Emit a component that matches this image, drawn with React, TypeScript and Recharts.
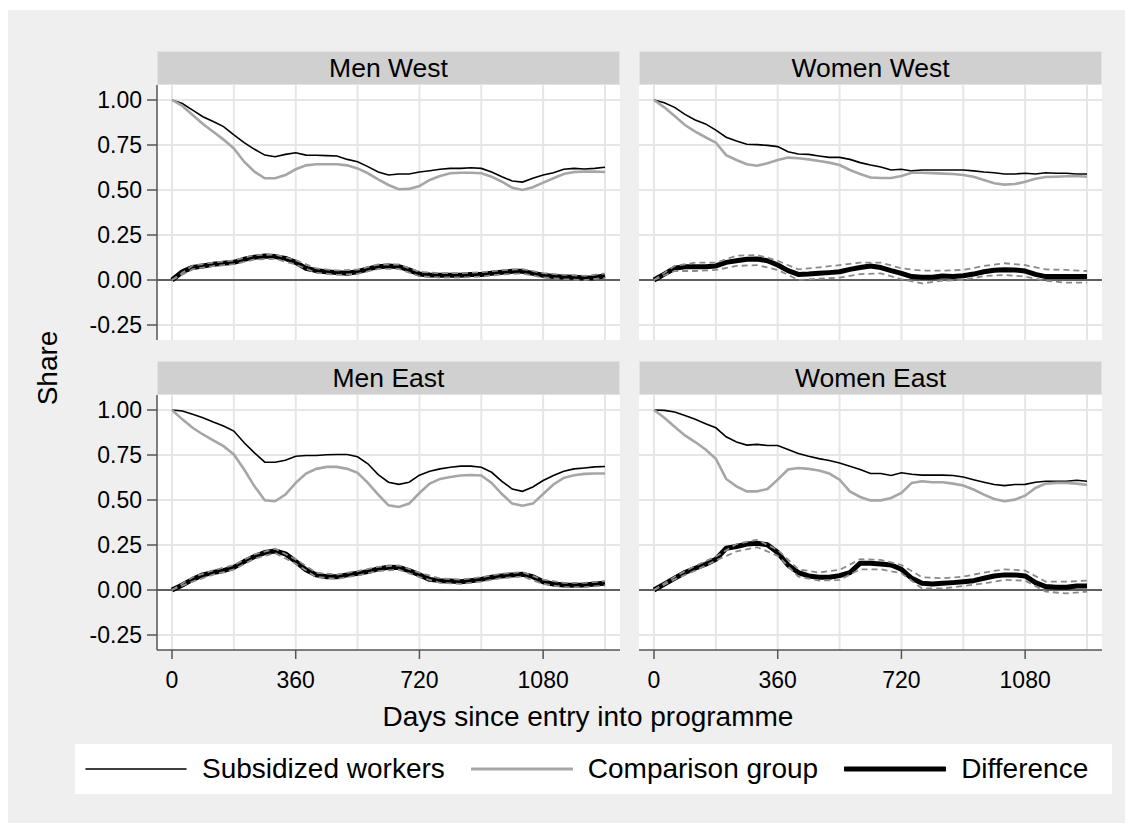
import React from 'react';
import { LineChart, Line, XAxis, YAxis, CartesianGrid, ReferenceLine } from 'recharts';

// ---------- categories / ticks ----------
const days = [0, 30, 60, 90, 120, 150, 180, 210, 240, 270, 300, 330, 360, 390, 420, 450, 480, 510, 540, 570, 600, 630, 660, 690, 720, 750, 780, 810, 840, 870, 900, 930, 960, 990, 1020, 1050, 1080, 1110, 1140, 1170, 1200, 1230, 1260];
const ciDays = [0, 60, 120, 180, 240, 300, 360, 420, 480, 540, 600, 660, 720, 780, 840, 900, 960, 1020, 1080, 1140, 1200, 1260];
const xTicks = [0, 360, 720, 1080];
const xGrid = [0, 180, 360, 540, 720, 900, 1080, 1260];
const yTicks = [-0.25, 0, 0.25, 0.5, 0.75, 1];

// ---------- Men West ----------
const menWestSubsidized = [1.00, 0.98, 0.944, 0.907, 0.88, 0.852, 0.806, 0.763, 0.726, 0.694, 0.685, 0.698, 0.707, 0.694, 0.693, 0.691, 0.689, 0.670, 0.657, 0.63, 0.60, 0.583, 0.589, 0.589, 0.60, 0.607, 0.615, 0.62, 0.62, 0.624, 0.62, 0.60, 0.574, 0.55, 0.544, 0.565, 0.583, 0.596, 0.615, 0.62, 0.617, 0.62, 0.626];
const menWestComparison = [1.00, 0.967, 0.917, 0.867, 0.824, 0.78, 0.731, 0.657, 0.602, 0.565, 0.565, 0.583, 0.615, 0.637, 0.643, 0.643, 0.643, 0.637, 0.62, 0.593, 0.559, 0.528, 0.504, 0.506, 0.522, 0.556, 0.578, 0.593, 0.596, 0.596, 0.593, 0.574, 0.546, 0.513, 0.50, 0.515, 0.541, 0.565, 0.589, 0.60, 0.602, 0.602, 0.60];
const menWestDifference = [0, 0.046, 0.07, 0.078, 0.087, 0.093, 0.098, 0.115, 0.126, 0.133, 0.13, 0.12, 0.098, 0.065, 0.052, 0.046, 0.041, 0.037, 0.046, 0.061, 0.074, 0.078, 0.074, 0.056, 0.033, 0.028, 0.026, 0.026, 0.026, 0.03, 0.031, 0.037, 0.043, 0.048, 0.048, 0.037, 0.026, 0.019, 0.017, 0.015, 0.011, 0.013, 0.024];
const menWestCiHigh = [0, 0.08, 0.097, 0.108, 0.138, 0.142, 0.11, 0.064, 0.053, 0.058, 0.086, 0.086, 0.045, 0.038, 0.038, 0.043, 0.055, 0.06, 0.038, 0.029, 0.023, 0.036];
const menWestCiLow = [0, 0.06, 0.077, 0.088, 0.114, 0.118, 0.086, 0.04, 0.029, 0.034, 0.062, 0.062, 0.021, 0.014, 0.014, 0.019, 0.031, 0.036, 0.014, 0.005, -0.001, 0.012];

// ---------- Women West ----------
const womenWestSubsidized = [1.00, 0.985, 0.959, 0.92, 0.889, 0.867, 0.833, 0.793, 0.772, 0.754, 0.752, 0.748, 0.741, 0.713, 0.70, 0.698, 0.689, 0.681, 0.681, 0.67, 0.652, 0.639, 0.628, 0.611, 0.615, 0.606, 0.611, 0.611, 0.611, 0.611, 0.611, 0.606, 0.60, 0.596, 0.589, 0.589, 0.593, 0.589, 0.596, 0.593, 0.593, 0.589, 0.589];
const womenWestComparison = [1.00, 0.959, 0.911, 0.861, 0.824, 0.793, 0.763, 0.694, 0.667, 0.643, 0.635, 0.648, 0.667, 0.68, 0.676, 0.67, 0.661, 0.652, 0.639, 0.611, 0.589, 0.569, 0.567, 0.567, 0.578, 0.596, 0.596, 0.594, 0.591, 0.589, 0.583, 0.574, 0.556, 0.537, 0.53, 0.533, 0.546, 0.563, 0.572, 0.574, 0.576, 0.578, 0.574];
const womenWestDifference = [0, 0.033, 0.065, 0.074, 0.074, 0.074, 0.078, 0.098, 0.107, 0.115, 0.117, 0.107, 0.083, 0.052, 0.031, 0.033, 0.037, 0.041, 0.046, 0.059, 0.069, 0.078, 0.069, 0.052, 0.037, 0.019, 0.015, 0.015, 0.022, 0.02, 0.024, 0.033, 0.046, 0.054, 0.057, 0.056, 0.05, 0.031, 0.019, 0.019, 0.019, 0.019, 0.019];
const womenWestCiHigh = [0, 0.078, 0.096, 0.096, 0.135, 0.139, 0.107, 0.059, 0.07, 0.083, 0.096, 0.096, 0.065, 0.052, 0.052, 0.056, 0.078, 0.093, 0.083, 0.059, 0.056, 0.05];
const womenWestCiLow = [0, 0.05, 0.05, 0.056, 0.078, 0.083, 0.056, 0.0, 0.007, 0.013, 0.033, 0.037, 0.004, -0.019, -0.004, 0.0, 0.022, 0.028, 0.019, -0.004, -0.015, -0.015];

// ---------- Men East ----------
const menEastSubsidized = [1.00, 0.994, 0.976, 0.957, 0.933, 0.911, 0.883, 0.818, 0.762, 0.71, 0.71, 0.721, 0.743, 0.747, 0.747, 0.751, 0.753, 0.753, 0.74, 0.701, 0.641, 0.599, 0.587, 0.599, 0.638, 0.66, 0.673, 0.682, 0.688, 0.688, 0.682, 0.654, 0.604, 0.561, 0.548, 0.572, 0.608, 0.636, 0.66, 0.673, 0.678, 0.684, 0.686];
const menEastComparison = [1.00, 0.948, 0.901, 0.864, 0.831, 0.799, 0.753, 0.669, 0.576, 0.498, 0.493, 0.53, 0.595, 0.647, 0.673, 0.684, 0.684, 0.673, 0.651, 0.595, 0.53, 0.47, 0.461, 0.48, 0.539, 0.591, 0.617, 0.628, 0.636, 0.639, 0.636, 0.595, 0.533, 0.48, 0.468, 0.48, 0.533, 0.586, 0.623, 0.638, 0.645, 0.647, 0.647];
const menEastDifference = [0, 0.028, 0.059, 0.084, 0.097, 0.108, 0.126, 0.158, 0.186, 0.208, 0.217, 0.201, 0.158, 0.112, 0.084, 0.074, 0.074, 0.084, 0.093, 0.102, 0.117, 0.126, 0.125, 0.108, 0.084, 0.059, 0.052, 0.05, 0.046, 0.052, 0.059, 0.071, 0.078, 0.084, 0.087, 0.074, 0.046, 0.033, 0.028, 0.026, 0.028, 0.033, 0.037];
const menEastCiHigh = [0, 0.071, 0.109, 0.138, 0.198, 0.229, 0.17, 0.096, 0.086, 0.105, 0.129, 0.137, 0.096, 0.064, 0.058, 0.071, 0.09, 0.099, 0.058, 0.04, 0.04, 0.049];
const menEastCiLow = [0, 0.047, 0.085, 0.114, 0.174, 0.205, 0.146, 0.072, 0.062, 0.081, 0.105, 0.113, 0.072, 0.04, 0.034, 0.047, 0.066, 0.075, 0.034, 0.016, 0.016, 0.025];

// ---------- Women East ----------
const womenEastSubsidized = [1.00, 0.998, 0.989, 0.97, 0.948, 0.924, 0.901, 0.851, 0.822, 0.805, 0.809, 0.803, 0.803, 0.781, 0.758, 0.743, 0.73, 0.719, 0.706, 0.688, 0.669, 0.647, 0.647, 0.636, 0.651, 0.643, 0.638, 0.638, 0.638, 0.636, 0.628, 0.613, 0.599, 0.586, 0.58, 0.586, 0.587, 0.599, 0.604, 0.604, 0.604, 0.61, 0.604];
const womenEastComparison = [1.00, 0.957, 0.907, 0.859, 0.822, 0.781, 0.729, 0.617, 0.576, 0.548, 0.548, 0.561, 0.613, 0.669, 0.678, 0.673, 0.664, 0.647, 0.613, 0.548, 0.517, 0.498, 0.498, 0.511, 0.539, 0.595, 0.604, 0.599, 0.599, 0.591, 0.58, 0.558, 0.53, 0.506, 0.493, 0.502, 0.524, 0.567, 0.591, 0.595, 0.595, 0.591, 0.584];
const womenEastDifference = [0, 0.033, 0.065, 0.097, 0.121, 0.143, 0.171, 0.232, 0.242, 0.255, 0.26, 0.251, 0.208, 0.139, 0.097, 0.078, 0.071, 0.071, 0.08, 0.097, 0.149, 0.149, 0.145, 0.139, 0.115, 0.065, 0.037, 0.033, 0.037, 0.041, 0.046, 0.052, 0.065, 0.078, 0.084, 0.084, 0.078, 0.041, 0.019, 0.015, 0.015, 0.022, 0.022];
const womenEastCiHigh = [0, 0.074, 0.134, 0.186, 0.255, 0.279, 0.223, 0.115, 0.097, 0.112, 0.171, 0.167, 0.139, 0.071, 0.065, 0.074, 0.097, 0.115, 0.108, 0.046, 0.046, 0.052];
const womenEastCiLow = [0, 0.059, 0.108, 0.164, 0.214, 0.238, 0.19, 0.074, 0.052, 0.056, 0.115, 0.115, 0.093, 0.009, 0.009, 0.022, 0.037, 0.056, 0.052, -0.009, -0.019, -0.009];

// ---------- labels ----------
const panelTitles = ['Men West', 'Women West', 'Men East', 'Women East'];
const legendLabels = ['Subsidized workers', 'Comparison group', 'Difference'];
const yAxisTitle = 'Share';
const xAxisTitle = 'Days since entry into programme';

const buildMain = (s: number[], c: number[], d: number[]) =>
  days.map((day, i) => ({ d: day, sub: s[i], comp: c[i], diff: d[i] }));
const buildCi = (hi: number[], lo: number[]) =>
  ciDays.map((day, i) => ({ d: day, hi: hi[i], lo: lo[i] }));

const panels = [
  { title: panelTitles[0], main: buildMain(menWestSubsidized, menWestComparison, menWestDifference), ci: buildCi(menWestCiHigh, menWestCiLow), left: 157, top: 85, showY: true, showX: false },
  { title: panelTitles[1], main: buildMain(womenWestSubsidized, womenWestComparison, womenWestDifference), ci: buildCi(womenWestCiHigh, womenWestCiLow), left: 639, top: 85, showY: false, showX: false },
  { title: panelTitles[2], main: buildMain(menEastSubsidized, menEastComparison, menEastDifference), ci: buildCi(menEastCiHigh, menEastCiLow), left: 157, top: 395, showY: true, showX: true },
  { title: panelTitles[3], main: buildMain(womenEastSubsidized, womenEastComparison, womenEastDifference), ci: buildCi(womenEastCiHigh, womenEastCiLow), left: 639, top: 395, showY: false, showX: true },
];

const PW = 463;
const PH = 255;
const YW = 110;
const XH = 75;
const HEADER_H = 34;
const xDomain: [number, number] = [-43.65, 1303.65];
const yDomain: [number, number] = [-0.3333, 1.0833];
const FONT = '"Liberation Sans", Arial, Helvetica, sans-serif';
const AXIS_COLOR = '#555555';

function Panel(p: any) {
  const w = PW + (p.showY ? YW : 0);
  const h = PH + (p.showX ? XH : 0);
  return (
    <>
      <div
        style={{
          position: 'absolute', left: p.left, top: p.top - HEADER_H, width: PW, height: HEADER_H,
          background: '#D0D0D0', boxSizing: 'border-box', border: '1px solid #DCE4EA',
          display: 'flex', alignItems: 'center', justifyContent: 'center', fontSize: 26.5, color: '#000',
        }}
      >
        {p.title}
      </div>
      <div style={{ position: 'absolute', left: p.left - (p.showY ? YW : 0), top: p.top }}>
        <LineChart width={w} height={h} data={p.main} margin={{ top: 0, right: 0, bottom: 0, left: 0 }}>
          <CartesianGrid
            fill="#FFFFFF"
            stroke="#E6E6E6"
            strokeWidth={2}
            verticalValues={xGrid}
            horizontalValues={yTicks}
          />
          <XAxis
            dataKey="d"
            type="number"
            domain={xDomain}
            ticks={xTicks}
            interval={0}
            allowDataOverflow
            hide={!p.showX}
            height={XH}
            tickSize={9}
            tickMargin={13}
            axisLine={{ stroke: AXIS_COLOR, strokeWidth: 1.5 }}
            tickLine={{ stroke: AXIS_COLOR, strokeWidth: 1.5 }}
            tick={{ fill: '#000', fontSize: 23, fontFamily: FONT }}
          />
          <YAxis
            type="number"
            domain={yDomain}
            ticks={yTicks}
            interval={0}
            allowDataOverflow
            hide={!p.showY}
            width={YW}
            tickSize={10}
            tickMargin={5}
            tickFormatter={(v: number) => v.toFixed(2)}
            axisLine={{ stroke: AXIS_COLOR, strokeWidth: 1.5 }}
            tickLine={{ stroke: AXIS_COLOR, strokeWidth: 1.5 }}
            tick={{ fill: '#000', fontSize: 23, fontFamily: FONT }}
          />
          <ReferenceLine y={0} stroke="#333333" strokeWidth={1.6} />
          <Line type="linear" dataKey="sub" stroke="#000000" strokeWidth={1.6} dot={false} activeDot={false} isAnimationActive={false} />
          <Line type="linear" dataKey="comp" stroke="#A6A6A6" strokeWidth={2.6} dot={false} activeDot={false} isAnimationActive={false} />
          <Line type="linear" dataKey="diff" stroke="#000000" strokeWidth={5} strokeLinejoin="round" dot={false} activeDot={false} isAnimationActive={false} />
          <Line type="linear" data={p.ci} dataKey="hi" stroke="#8A8A8A" strokeWidth={1.8} strokeDasharray="6 4" dot={false} activeDot={false} isAnimationActive={false} />
          <Line type="linear" data={p.ci} dataKey="lo" stroke="#8A8A8A" strokeWidth={1.8} strokeDasharray="6 4" dot={false} activeDot={false} isAnimationActive={false} />
        </LineChart>
      </div>
    </>
  );
}

const legendStyles = [
  { color: '#000000', width: 1.6 },
  { color: '#A6A6A6', width: 3 },
  { color: '#000000', width: 5 },
];

export default function App() {
  return (
    <div style={{ position: 'absolute', left: 0, top: 0, width: 1133, height: 831, fontFamily: FONT, color: '#000' }}>
      <div style={{ position: 'absolute', left: 8, top: 10, width: 1117, height: 813, background: '#EFEFEF' }} />
      {panels.map((p) => (
        <Panel key={p.title} {...p} />
      ))}
      <div
        style={{
          position: 'absolute', left: 48 - 60, top: 368 - 20, width: 120, height: 40, lineHeight: '40px',
          textAlign: 'center', fontSize: 28, transform: 'rotate(-90deg)',
        }}
      >
        {yAxisTitle}
      </div>
      <div
        style={{
          position: 'absolute', left: 588 - 300, top: 701, width: 600, height: 32, lineHeight: '32px',
          textAlign: 'center', fontSize: 28, whiteSpace: 'nowrap',
        }}
      >
        {xAxisTitle}
      </div>
      <div
        style={{
          position: 'absolute', left: 75, top: 744, width: 1037, height: 50, background: '#FFFFFF',
          display: 'flex', alignItems: 'center', boxSizing: 'border-box',
          paddingLeft: 10, fontSize: 28,
        }}
      >
        {legendLabels.map((lab, i) => (
          <div key={lab} style={{ display: 'flex', alignItems: 'center', marginLeft: i === 0 ? 0 : 26 }}>
            <svg width={102} height={10} style={{ display: 'block' }}>
              <line x1={1} y1={5} x2={101} y2={5} stroke={legendStyles[i].color} strokeWidth={legendStyles[i].width} strokeLinecap="round" />
            </svg>
            <span style={{ marginLeft: 15, whiteSpace: 'nowrap' }}>{lab}</span>
          </div>
        ))}
      </div>
    </div>
  );
}
